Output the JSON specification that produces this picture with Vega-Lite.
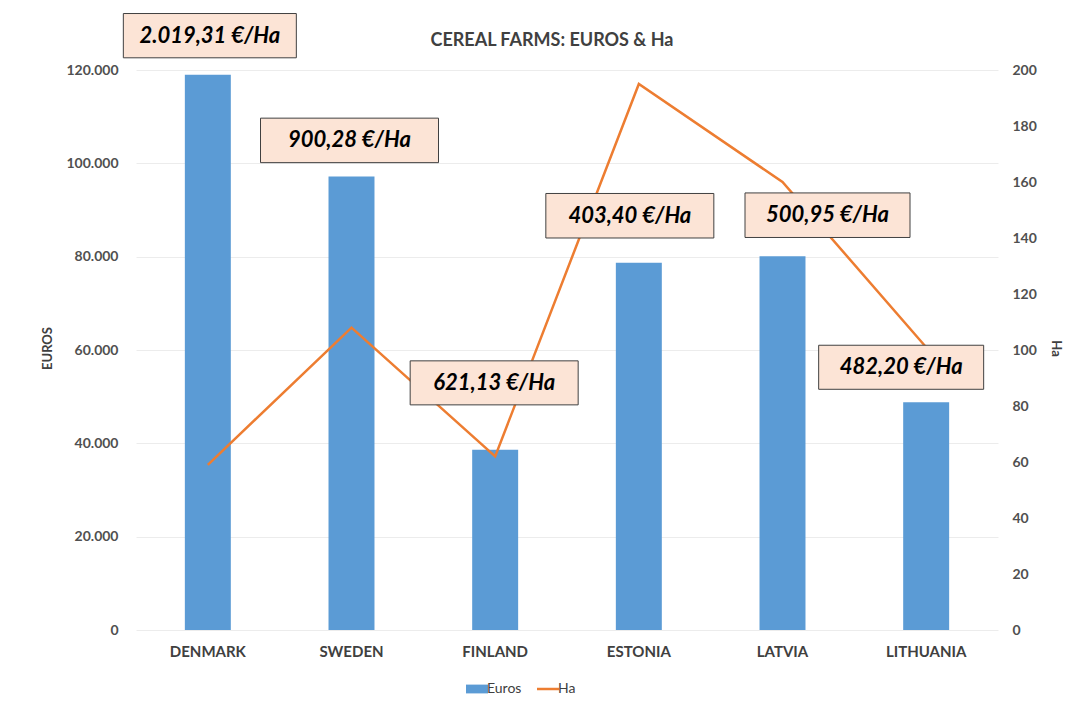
{
  "$schema": "https://vega.github.io/schema/vega-lite/v6.json",
  "autosize": "none",
  "width": 862,
  "height": 560,
  "padding": {"left": 136, "top": 70, "right": 83, "bottom": 87},
  "background": "white",
  "config": {
    "font": "Lato",
    "view": {"stroke": null},
    "axis": {"domain": false, "ticks": false, "labelFont": "Lato", "titleFont": "Lato"}
  },
  "title": {
    "text": "CEREAL FARMS: EUROS & Ha",
    "font": "Lato",
    "fontSize": 18,
    "fontWeight": "bold",
    "color": "#404040",
    "anchor": "middle",
    "frame": "group",
    "dx": -15,
    "offset": -38
  },
  "data": {
    "values": [
      {"country": "DENMARK", "euros": 119000, "ha": 59, "label": "2.019,31 €/Ha"},
      {"country": "SWEDEN", "euros": 97200, "ha": 108, "label": "900,28 €/Ha"},
      {"country": "FINLAND", "euros": 38600, "ha": 62, "label": "621,13 €/Ha"},
      {"country": "ESTONIA", "euros": 78700, "ha": 195, "label": "403,40 €/Ha"},
      {"country": "LATVIA", "euros": 80100, "ha": 160, "label": "500,95 €/Ha"},
      {"country": "LITHUANIA", "euros": 48800, "ha": 101, "label": "482,20 €/Ha"}
    ]
  },
  "encoding": {
    "x": {
      "field": "country",
      "type": "nominal",
      "sort": null,
      "scale": {"paddingInner": 0.68, "paddingOuter": 0.34},
      "axis": {
        "title": null,
        "labelAngle": 0,
        "labelFontSize": 15,
        "labelFontWeight": "bold",
        "labelColor": "#404040",
        "labelPadding": 14,
        "grid": false
      }
    }
  },
  "layer": [
    {
      "mark": {"type": "bar", "color": "#5b9bd5"},
      "encoding": {
        "y": {
          "field": "euros",
          "type": "quantitative",
          "scale": {"domain": [0, 120000], "nice": false},
          "axis": {
            "orient": "left",
            "title": "EUROS",
            "titleFontSize": 13,
            "titleFontWeight": "bold",
            "titleColor": "#404040",
            "titleX": -89,
            "titleY": 278,
            "titleAngle": -90,
            "titleAlign": "center",
            "titleBaseline": "middle",
            "values": [0, 20000, 40000, 60000, 80000, 100000, 120000],
            "labelExpr": "replace(format(datum.value, ','), ',', '.')",
            "labelFontSize": 14,
            "labelFontWeight": "bold",
            "labelColor": "#505050",
            "labelPadding": 18,
            "grid": true,
            "gridColor": "#ececec",
            "gridWidth": 1
          }
        },
        "color": {
          "datum": "Euros",
          "scale": {"domain": ["Euros", "Ha"], "range": ["#5b9bd5", "#ed7d31"]},
          "legend": {
            "orient": "none",
            "legendX": 334,
            "legendY": 612,
            "direction": "horizontal",
            "title": null,
            "labelFontSize": 14,
            "labelColor": "#404040",
            "labelFont": "Lato",
            "symbolSize": 484,
            "columnPadding": 10,
            "labelOffset": 3,
            "encode": {
              "symbols": {
                "update": {
                  "shape": {"signal": "datum.value === 'Ha' ? 'M-1,0L1,0' : 'M-1,-0.4L1,-0.4L1,0.4L-1,0.4Z'"},
                  "fill": {"signal": "datum.value === 'Ha' ? 'transparent' : '#5b9bd5'"},
                  "stroke": {"signal": "datum.value === 'Ha' ? '#ed7d31' : 'transparent'"},
                  "strokeWidth": {"signal": "datum.value === 'Ha' ? 2.5 : 0"},
                  "opacity": {"value": 1}
                }
              }
            }
          }
        }
      }
    },
    {
      "mark": {"type": "line", "strokeWidth": 2.5},
      "encoding": {
        "y": {
          "field": "ha",
          "type": "quantitative",
          "scale": {"domain": [0, 200], "nice": false},
          "axis": {
            "orient": "right",
            "title": "Ha",
            "titleFontSize": 13,
            "titleFontWeight": "bold",
            "titleColor": "#404040",
            "titleX": 57,
            "titleY": 278,
            "titleAngle": 90,
            "titleAlign": "center",
            "titleBaseline": "middle",
            "values": [0, 20, 40, 60, 80, 100, 120, 140, 160, 180, 200],
            "labelFontSize": 14,
            "labelFontWeight": "bold",
            "labelColor": "#505050",
            "labelPadding": 14,
            "grid": false
          }
        },
        "color": {"datum": "Ha"}
      }
    },
    {
      "transform": [{"filter": "datum.country === 'DENMARK'"}],
      "encoding": {
        "y": {"field": "euros", "type": "quantitative", "scale": {"domain": [0, 120000], "nice": false}, "axis": null},
        "text": {"field": "label"}
      },
      "layer": [
        {"mark": {"type": "point", "shape": "M-1,-0.256L1,-0.256L1,0.256L-1,0.256Z", "size": 29929, "filled": true, "fill": "#fce4d6", "stroke": "#404040", "strokeWidth": 1, "opacity": 1, "xOffset": 2, "yOffset": -39}},
        {"mark": {"type": "text", "font": "Lato", "fontSize": 22, "fontWeight": "bold", "fontStyle": "italic", "color": "#000000", "baseline": "middle", "align": "center", "xOffset": 2, "yOffset": -39}}
      ]
    },
    {
      "transform": [{"filter": "datum.country === 'SWEDEN'"}],
      "encoding": {
        "y": {"field": "euros", "type": "quantitative", "scale": {"domain": [0, 120000], "nice": false}, "axis": null},
        "text": {"field": "label"}
      },
      "layer": [
        {"mark": {"type": "point", "shape": "M-1,-0.25L1,-0.25L1,0.25L-1,0.25Z", "size": 31684, "filled": true, "fill": "#fce4d6", "stroke": "#404040", "strokeWidth": 1, "opacity": 1, "xOffset": -2, "yOffset": -36}},
        {"mark": {"type": "text", "font": "Lato", "fontSize": 22, "fontWeight": "bold", "fontStyle": "italic", "color": "#000000", "baseline": "middle", "align": "center", "xOffset": -2, "yOffset": -36}}
      ]
    },
    {
      "transform": [{"filter": "datum.country === 'FINLAND'"}],
      "encoding": {
        "y": {"field": "euros", "type": "quantitative", "scale": {"domain": [0, 120000], "nice": false}, "axis": null},
        "text": {"field": "label"}
      },
      "layer": [
        {"mark": {"type": "point", "shape": "M-1,-0.262L1,-0.262L1,0.262L-1,0.262Z", "size": 28224, "filled": true, "fill": "#fce4d6", "stroke": "#404040", "strokeWidth": 1, "opacity": 1, "xOffset": -1, "yOffset": -67}},
        {"mark": {"type": "text", "font": "Lato", "fontSize": 22, "fontWeight": "bold", "fontStyle": "italic", "color": "#000000", "baseline": "middle", "align": "center", "xOffset": -1, "yOffset": -67}}
      ]
    },
    {
      "transform": [{"filter": "datum.country === 'ESTONIA'"}],
      "encoding": {
        "y": {"field": "euros", "type": "quantitative", "scale": {"domain": [0, 120000], "nice": false}, "axis": null},
        "text": {"field": "label"}
      },
      "layer": [
        {"mark": {"type": "point", "shape": "M-1,-0.265L1,-0.265L1,0.265L-1,0.265Z", "size": 28224, "filled": true, "fill": "#fce4d6", "stroke": "#404040", "strokeWidth": 1, "opacity": 1, "xOffset": -9, "yOffset": -47}},
        {"mark": {"type": "text", "font": "Lato", "fontSize": 22, "fontWeight": "bold", "fontStyle": "italic", "color": "#000000", "baseline": "middle", "align": "center", "xOffset": -9, "yOffset": -47}}
      ]
    },
    {
      "transform": [{"filter": "datum.country === 'LATVIA'"}],
      "encoding": {
        "y": {"field": "euros", "type": "quantitative", "scale": {"domain": [0, 120000], "nice": false}, "axis": null},
        "text": {"field": "label"}
      },
      "layer": [
        {"mark": {"type": "point", "shape": "M-1,-0.27L1,-0.27L1,0.27L-1,0.27Z", "size": 27225, "filled": true, "fill": "#fce4d6", "stroke": "#404040", "strokeWidth": 1, "opacity": 1, "xOffset": 45, "yOffset": -41}},
        {"mark": {"type": "text", "font": "Lato", "fontSize": 22, "fontWeight": "bold", "fontStyle": "italic", "color": "#000000", "baseline": "middle", "align": "center", "xOffset": 45, "yOffset": -41}}
      ]
    },
    {
      "transform": [{"filter": "datum.country === 'LITHUANIA'"}],
      "encoding": {
        "y": {"field": "euros", "type": "quantitative", "scale": {"domain": [0, 120000], "nice": false}, "axis": null},
        "text": {"field": "label"}
      },
      "layer": [
        {"mark": {"type": "point", "shape": "M-1,-0.267L1,-0.267L1,0.267L-1,0.267Z", "size": 27225, "filled": true, "fill": "#fce4d6", "stroke": "#404040", "strokeWidth": 1, "opacity": 1, "xOffset": -25, "yOffset": -35}},
        {"mark": {"type": "text", "font": "Lato", "fontSize": 22, "fontWeight": "bold", "fontStyle": "italic", "color": "#000000", "baseline": "middle", "align": "center", "xOffset": -25, "yOffset": -35}}
      ]
    }
  ],
  "resolve": {"scale": {"y": "independent"}}
}
